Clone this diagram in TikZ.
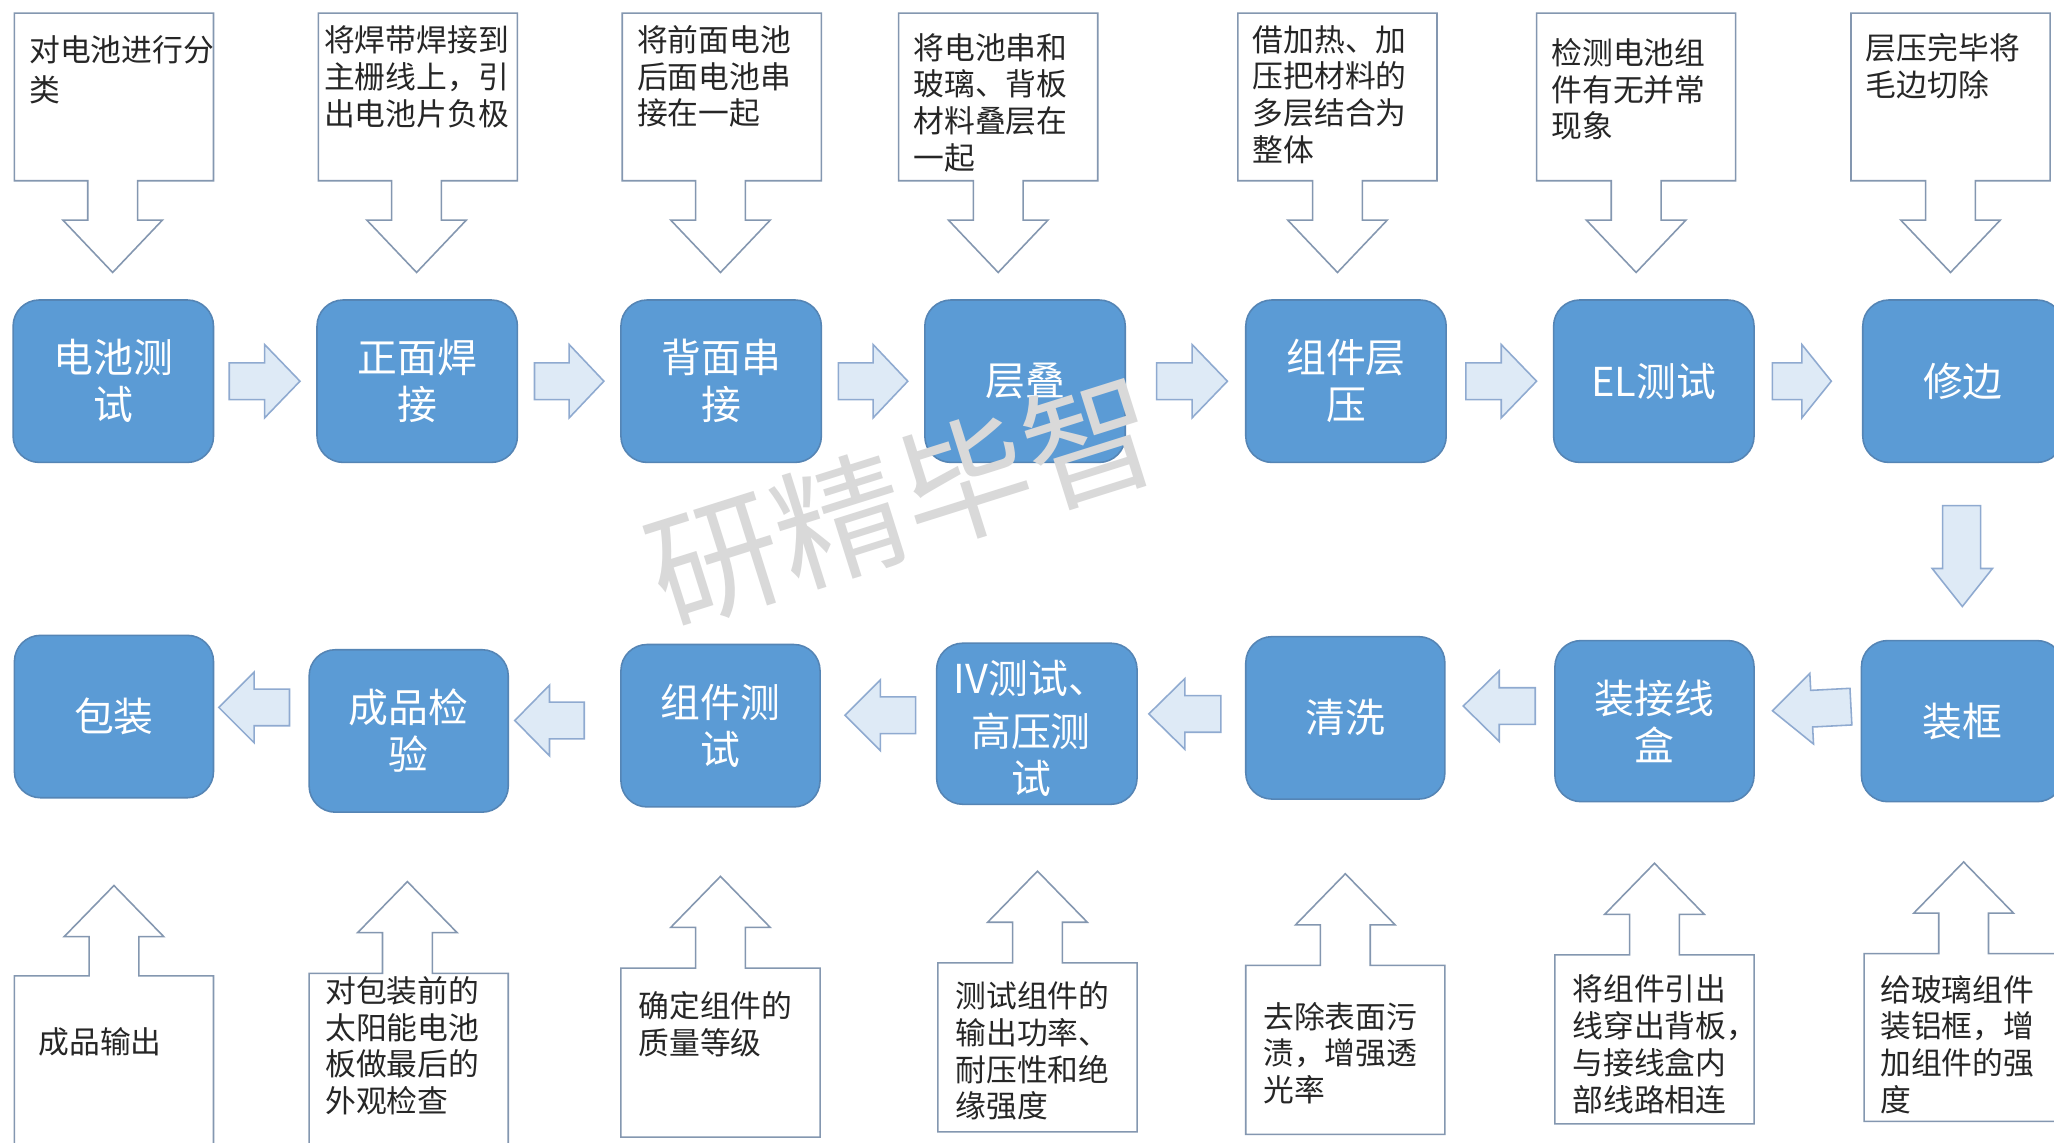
\documentclass[tikz,border=0pt]{standalone}
\usepackage{fontspec}
\setmainfont{Noto Sans CJK SC}
\newcommand\cfs{\fontsize{11.75}{14}\selectfont}
\newcommand\bfs{\fontsize{15.2}{18}\selectfont}
\definecolor{boxfill}{HTML}{5B9BD5}
\definecolor{boxline}{HTML}{5585B5}
\definecolor{arrfill}{HTML}{DEEAF6}
\definecolor{arrline}{HTML}{8FAAD0}
\definecolor{callline}{HTML}{8497B0}
\definecolor{callink}{HTML}{262626}
\tikzset{
  x=0.5pt,y=-0.5pt,
  stepbox/.style={draw=boxline,fill=boxfill,line width=0.6pt,rounded corners=10pt,text=white,align=center,inner sep=0pt,font=\bfs},
  steplabel/.style={text=white,align=center,inner sep=0pt,font=\bfs},
  flowarrow/.style={draw=arrline,fill=arrfill,line width=0.6pt,line join=miter},
  callshape/.style={draw=callline,fill=white,line width=0.6pt,line join=miter},
  calltext/.style={anchor=north west,inner sep=0pt,align=left,text=callink,font=\cfs},
  wmark/.style={rotate=17.5,text=black!15,font=\fontsize{50}{50}\selectfont,inner sep=0pt},
}
\newcommand\stepnode[6]{%
  \pgfmathsetmacro\ww{(#3-#2)*0.5}\pgfmathsetmacro\hh{(#5-#4)*0.5}%
  \node[stepbox,minimum width=\ww pt,minimum height=\hh pt] (#1) at ({(#2+#3)/2},{(#4+#5)/2}) {#6};}
\newcommand\downcall[6]{%
  \draw[callshape] (#2,#4) -- (#3,#4) -- (#3,#5) -- (#1+19,#5) -- (#1+19,#5+30) -- (#1+38,#5+30)
    -- (#1,#6) -- (#1-38,#5+30) -- (#1-19,#5+30) -- (#1-19,#5) -- (#2,#5) -- cycle;}
\newcommand\upcall[6]{%
  \draw[callshape] (#2,#4) -- (#1-19,#4) -- (#1-19,#6+39) -- (#1-38,#6+39) -- (#1,#6)
    -- (#1+38,#6+39) -- (#1+19,#6+39) -- (#1+19,#4) -- (#3,#4) -- (#3,#5) -- (#2,#5) -- cycle;}
\newcommand\rarr[3]{%
  \draw[flowarrow] (#1,#3-14) -- ({(#1+#2)/2},#3-14) -- ({(#1+#2)/2},#3-28) -- (#2,#3)
    -- ({(#1+#2)/2},#3+28) -- ({(#1+#2)/2},#3+14) -- (#1,#3+14) -- cycle;}
\newcommand\larr[3]{%
  \draw[flowarrow] (#2,#3-14) -- ({(#1+#2)/2},#3-14) -- ({(#1+#2)/2},#3-27) -- (#1,#3)
    -- ({(#1+#2)/2},#3+27) -- ({(#1+#2)/2},#3+14) -- (#2,#3+14) -- cycle;}
\begin{document}
\begin{tikzpicture}
\useasboundingbox (0,0) rectangle (1568,872);
\clip (0,0) rectangle (1568,872);
\fill[white] (0,0) rectangle (1568,872);
% top callouts
\downcall{86}{11}{163}{10}{138}{208}
\downcall{318}{243}{395}{10}{138}{208}
\downcall{550}{475}{627}{10}{138}{208}
\downcall{762}{686}{838}{10}{138}{208}
\downcall{1021}{945}{1097}{10}{138}{208}
\downcall{1249}{1173}{1325}{10}{138}{208}
\downcall{1489}{1413}{1565}{10}{138}{208}
\node[calltext] (t1) at (22,27) {对电池进行分\\[1pt]类};
\node[calltext] (t2) at (247,19.5) {将焊带焊接到\\主栅线上，引\\出电池片负极};
\node[calltext] (t3) at (486,19) {将前面电池\\后面电池串\\接在一起};
\node[calltext] (t4) at (697,25) {将电池串和\\玻璃、背板\\材料叠层在\\一起};
\node[calltext] (t5) at (956,19) {借加热、加\\压把材料的\\多层结合为\\整体};
\node[calltext] (t6) at (1184,29) {检测电池组\\件有无并常\\现象};
\node[calltext] (t7) at (1424,25) {层压完毕将\\毛边切除};
% bottom callouts
\upcall{87}{11}{163}{745}{900}{676}
\upcall{311}{236}{388}{743}{900}{673}
\upcall{550}{474}{626}{739}{868}{669}
\upcall{792}{716}{868}{735}{864}{665}
\upcall{1027}{951}{1103}{737}{866}{667}
\upcall{1263}{1187}{1339}{729}{858}{659}
\upcall{1499}{1423}{1575}{728}{856}{658}
\node[calltext] (b1) at (29,784) {成品输出};
\node[calltext] (b2) at (248,745) {对包装前的\\太阳能电池\\板做最后的\\外观检查};
\node[calltext] (b3) at (487,756.5) {确定组件的\\质量等级};
\node[calltext] (b4) at (729,749) {测试组件的\\输出功率、\\耐压性和绝\\缘强度};
\node[calltext] (b5) at (964,764.5) {去除表面污\\渍，增强透\\光率};
\node[calltext] (b6) at (1200,744) {将组件引出\\线穿出背板，\\与接线盒内\\部线路相连};
\node[calltext] (b7) at (1435,744) {给玻璃组件\\装铝框，增\\加组件的强\\度};
% process boxes
\stepnode{s1}{10}{163}{229}{353}{电池测\\试}
\stepnode{s2}{242}{395}{229}{353}{正面焊\\接}
\stepnode{s3}{474}{627}{229}{353}{背面串\\接}
\stepnode{s4}{706}{859}{229}{353}{层叠}
\stepnode{s5}{951}{1104}{229}{353}{组件层\\压}
\stepnode{s6}{1186}{1339}{229}{353}{EL测试}
\stepnode{s7}{1422}{1575}{229}{353}{修边}
\stepnode{s8}{1421}{1575}{489}{612}{装框}
\stepnode{s9}{1187}{1339}{489}{612}{装接线\\盒}
\stepnode{s10}{951}{1103}{486}{610}{清洗}
\stepnode{s11}{715}{868}{491}{614}{}
\node[steplabel] (s11t) at (787,556) {IV测试、\\[2.5pt]高压测\\试};
\stepnode{s12}{474}{626}{492}{616}{组件测\\试}
\stepnode{s13}{236}{388}{496}{620}{成品检\\验}
\stepnode{s14}{11}{163}{485}{609}{包装}
% flow arrows
\rarr{175}{229}{291}
\rarr{408}{461}{291}
\rarr{640}{693}{291}
\rarr{883}{937}{291}
\rarr{1119}{1173}{291}
\rarr{1353}{1398}{291}
\draw[flowarrow] (1483,386) -- (1512,386) -- (1512,434) -- (1521,434) -- (1498,463) -- (1475,434) -- (1483,434) -- cycle;
\begin{scope}[rotate around={3:(1383,541)}]
\larr{1353}{1413}{541}
\end{scope}
\larr{1117}{1172}{539}
\larr{877}{932}{545}
\larr{645}{699}{546}
\larr{393}{446}{550}
\larr{167}{221}{540}
% watermark
\node[wmark] (mark) at (689,382) {研精毕智};
\end{tikzpicture}
\end{document}
